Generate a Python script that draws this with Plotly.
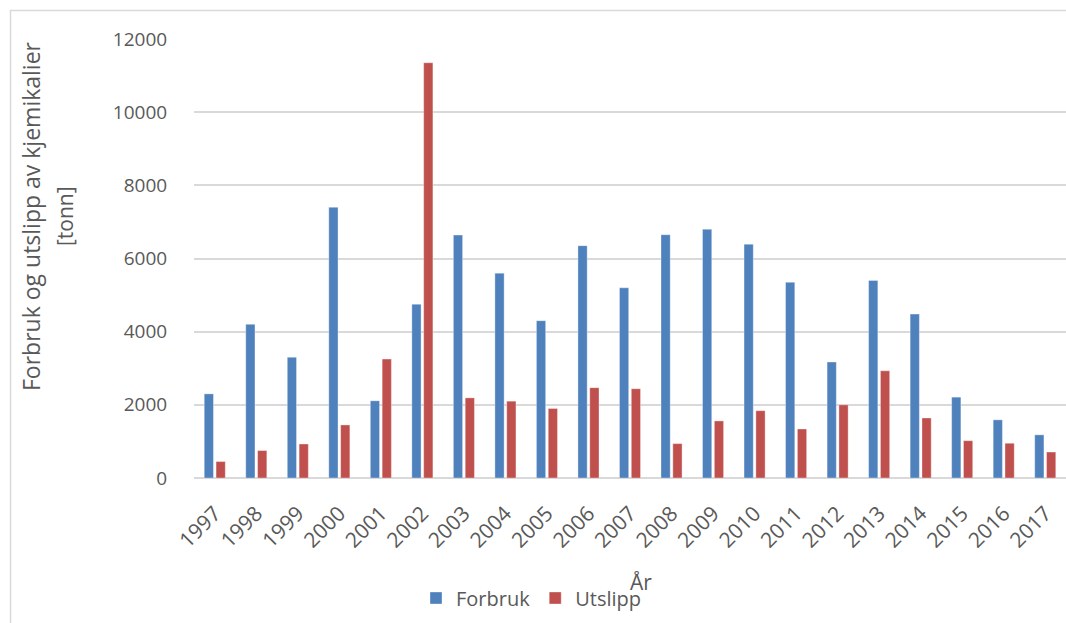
import plotly.graph_objects as go

# Annual consumption and discharge of chemicals (tonnes)
years = ["1997", "1998", "1999", "2000", "2001", "2002", "2003", "2004", "2005", "2006", "2007",
         "2008", "2009", "2010", "2011", "2012", "2013", "2014", "2015", "2016", "2017"]
forbruk = [2300, 4200, 3300, 7400, 2110, 4750, 6640, 5600, 4300, 6350, 5200,
           6650, 6800, 6390, 5350, 3170, 5400, 4480, 2210, 1590, 1180]
utslipp = [450, 750, 930, 1450, 3250, 11350, 2190, 2100, 1900, 2470, 2440,
           940, 1560, 1840, 1340, 2000, 2930, 1640, 1020, 950, 710]
y_ticks = [0, 2000, 4000, 6000, 8000, 10000, 12000]
y_tick_labels = ["0", "2000", "4000", "6000", "8000", "10000", "12000"]

W, H = 1066, 623
L, R, T, B = 194, 0, 39, 145
PW, PH = W - L - R, H - T - B

def px(x):
    return (x - L) / PW

def py(y):
    return (H - B - y) / PH

TEXT = "#595959"
GRID = "#D9D9D9"
FONT = "Open Sans"

fig = go.Figure()
fig.add_trace(go.Bar(x=years, y=forbruk, name="Forbruk",
                     marker=dict(color="#4F81BD", line=dict(color="rgba(255,255,255,0.35)", width=1))))
fig.add_trace(go.Bar(x=years, y=utslipp, name="Utslipp",
                     marker=dict(color="#C0504D", line=dict(color="rgba(255,255,255,0.35)", width=1))))

fig.update_layout(
    width=W, height=H,
    margin=dict(l=L, r=R, t=T, b=B, pad=0),
    paper_bgcolor="white", plot_bgcolor="white",
    barmode="group", bargap=0.43, bargroupgap=0.22,
    font=dict(family=FONT, color=TEXT, size=19),
    showlegend=True,
    legend=dict(orientation="h", x=px(416), y=py(598), xanchor="left", yanchor="middle",
                font=dict(family=FONT, size=20, color=TEXT), itemwidth=30,
                bgcolor="rgba(0,0,0,0)", traceorder="normal"),
    xaxis=dict(type="category", tickangle=-45, showgrid=False, showline=False, zeroline=False,
               ticks="outside", ticklen=0, ticklabelstandoff=14,
               tickfont=dict(family=FONT, size=21, color=TEXT)),
    yaxis=dict(range=[0, 12000], tickvals=y_ticks, ticktext=y_tick_labels,
               showgrid=True, gridcolor=GRID, gridwidth=1.5,
               zeroline=True, zerolinecolor=GRID, zerolinewidth=1.5, showline=False,
               ticks="outside", ticklen=0, ticklabelstandoff=22,
               tickfont=dict(family=FONT, size=19, color=TEXT)),
)

# Axis titles
fig.add_annotation(text="Forbruk og utslipp av kjemikalier", xref="paper", yref="paper",
                   x=px(31), y=py(216), xanchor="center", yanchor="middle", textangle=-90,
                   showarrow=False, font=dict(family=FONT, size=23, color=TEXT))
fig.add_annotation(text="[tonn]", xref="paper", yref="paper",
                   x=px(65), y=py(216), xanchor="center", yanchor="middle", textangle=-90,
                   showarrow=False, font=dict(family=FONT, size=21, color=TEXT))
fig.add_annotation(text="År", xref="paper", yref="paper",
                   x=px(641), y=py(582), xanchor="center", yanchor="middle",
                   showarrow=False, font=dict(family=FONT, size=21, color=TEXT))

# Chart frame (top and left edges)
fig.add_shape(type="line", xref="paper", yref="paper", x0=px(10), x1=px(1070), y0=py(10.5), y1=py(10.5),
              line=dict(color=GRID, width=1.5))
fig.add_shape(type="line", xref="paper", yref="paper", x0=px(10.5), x1=px(10.5), y0=py(10), y1=py(630),
              line=dict(color=GRID, width=1.5))

fig.write_html("out.html")
